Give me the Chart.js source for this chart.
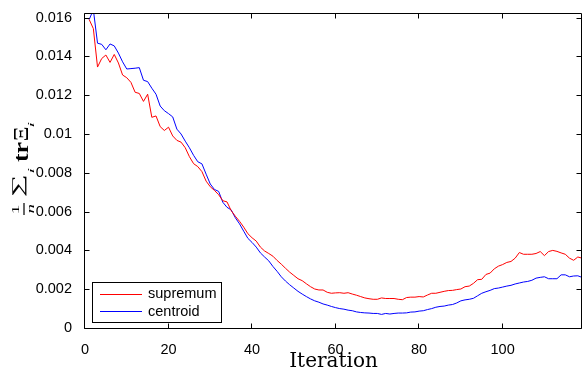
<!DOCTYPE html>
<html>
<head>
<meta charset="utf-8">
<script src="https://cdn.jsdelivr.net/npm/chart.js@4/dist/chart.umd.min.js"></script>
<style>
html,body{margin:0;padding:0;background:#fff;}
#wrap{width:583px;height:370px;}
</style>
</head>
<body>
<div id="wrap"><canvas id="c" width="583" height="370"></canvas></div>
<script>
// ---- data ----
const iterations = Array.from({length: 119}, (_, i) => i + 1);
const supremum = [
0.0159,0.01543,0.01345,0.01389,0.01407,0.01369,0.0141,0.01366,0.01304,0.0129,
0.01266,0.01215,0.01209,0.01168,0.01205,0.01086,0.01093,0.01038,0.01018,0.01035,
0.0099,0.00967,0.00958,0.00929,0.00883,0.00847,0.00832,0.00806,0.00757,0.00728,
0.00709,0.00687,0.00656,0.0065,0.00605,0.00576,0.0055,0.0052,0.00486,0.00465,
0.00448,0.00417,0.00397,0.00384,0.0037,0.00348,0.00329,0.00308,0.00288,0.00271,
0.00254,0.00244,0.00228,0.00213,0.00201,0.00196,0.00196,0.00184,0.00179,0.00181,
0.00182,0.00179,0.00182,0.00175,0.00169,0.00162,0.00155,0.00151,0.00148,0.00148,
0.00155,0.00152,0.00152,0.00152,0.00148,0.00146,0.00157,0.00159,0.00159,0.00162,
0.0016,0.0017,0.00179,0.00179,0.00184,0.00189,0.00193,0.00194,0.00198,0.00201,
0.00213,0.00216,0.0023,0.00249,0.00251,0.00276,0.00283,0.00305,0.00319,0.00327,
0.00338,0.00343,0.0036,0.00389,0.0038,0.0038,0.0038,0.00384,0.00394,0.00373,
0.00394,0.004,0.00395,0.00387,0.0038,0.0036,0.00349,0.00366,0.0036
];
const centroid = [
0.0159,0.0164,0.01468,0.01462,0.01434,0.01464,0.01454,0.01417,0.01372,0.01335,
0.01337,0.01339,0.01342,0.01277,0.0127,0.01236,0.01205,0.01144,0.0112,0.01105,
0.01088,0.01025,0.01,0.00963,0.00929,0.0089,0.00857,0.00846,0.00793,0.00742,
0.00714,0.00704,0.00648,0.00622,0.00609,0.00568,0.00537,0.00499,0.00462,0.00441,
0.00417,0.00387,0.00366,0.00346,0.00317,0.00292,0.00264,0.00242,0.00223,0.00206,
0.00189,0.00175,0.00162,0.0015,0.0014,0.00133,0.00124,0.00118,0.00111,0.00105,
0.001,0.00097,0.00092,0.00089,0.00083,0.0008,0.00078,0.00077,0.00075,0.00075,
0.0007,0.00075,0.00072,0.00075,0.00077,0.00077,0.00078,0.00082,0.00083,0.00087,
0.00089,0.00095,0.001,0.00107,0.00111,0.00113,0.00118,0.00121,0.00129,0.0014,
0.00145,0.00148,0.00153,0.00166,0.00179,0.00187,0.00194,0.00203,0.00206,0.00211,
0.00216,0.0022,0.00227,0.00232,0.00237,0.0024,0.00246,0.00257,0.00261,0.00264,
0.00254,0.00254,0.00254,0.00274,0.00274,0.00264,0.00268,0.00269,0.00261
];
const seriesNames = ['supremum', 'centroid'];
const seriesColors = ['#ff0000', '#0000ff'];
const xTickValues = [0, 20, 40, 60, 80, 100];
const yTickValues = [0, 0.002, 0.004, 0.006, 0.008, 0.01, 0.012, 0.014, 0.016];
const yTickLabels = ['0', '0.002', '0.004', '0.006', '0.008', '0.01', '0.012', '0.014', '0.016'];
const xAxisTitle = 'Iteration';

const tickFont = {family: '"Liberation Sans", Arial, sans-serif', size: 14.5};

function fitText(ctx, str, font, x0, x1, y0, y1) {
  ctx.font = font;
  ctx.textAlign = 'left';
  ctx.textBaseline = 'alphabetic';
  const m = ctx.measureText(str);
  const w = m.actualBoundingBoxLeft + m.actualBoundingBoxRight;
  const h = m.actualBoundingBoxAscent + m.actualBoundingBoxDescent;
  ctx.save();
  ctx.translate(x0, y0);
  ctx.scale((x1 - x0) / w, (y1 - y0) / h);
  ctx.fillText(str, m.actualBoundingBoxLeft, m.actualBoundingBoxAscent);
  ctx.restore();
}

const framePlugin = {
  id: 'matlabFrame',
  afterDatasetsDraw(chart) {
    const {ctx, chartArea: a, scales: {x, y}} = chart;
    ctx.save();
    ctx.strokeStyle = '#000';
    ctx.lineWidth = 1;
    const L = Math.round(a.left) - 0.5, R = Math.round(a.right) - 0.5;
    const T = Math.round(a.top) - 0.5, B = Math.round(a.bottom) + 0.5;
    ctx.beginPath();
    ctx.rect(L, T, R - L, B - T);
    const tl = 5;
    x.ticks.forEach(t => {
      const px = Math.round(x.getPixelForValue(t.value)) - 0.5;
      ctx.moveTo(px, B); ctx.lineTo(px, B - tl);
      ctx.moveTo(px, T); ctx.lineTo(px, T + tl);
    });
    y.ticks.forEach(t => {
      const py = Math.round(y.getPixelForValue(t.value)) + 0.5;
      ctx.moveTo(L, py); ctx.lineTo(L + tl, py);
      ctx.moveTo(R, py); ctx.lineTo(R - tl, py);
    });
    ctx.stroke();

    // legend box
    const lx = 92, ly = 282, lw = 129, lh = 40;
    ctx.fillStyle = '#fff';
    ctx.fillRect(lx, ly, lw, lh);
    ctx.strokeRect(lx + 0.5, ly + 0.5, lw, lh);
    ctx.font = '14.5px "Liberation Sans", Arial, sans-serif';
    ctx.textBaseline = 'middle';
    ctx.textAlign = 'left';
    chart.data.datasets.forEach((ds, i) => {
      const yy = ly + 11.5 + i * 17.5;
      ctx.strokeStyle = ds.borderColor;
      ctx.beginPath();
      ctx.moveTo(100, Math.round(yy) + 0.5);
      ctx.lineTo(142, Math.round(yy) + 0.5);
      ctx.stroke();
      ctx.fillStyle = '#000';
      ctx.fillText(ds.label, 148, yy + 0.5);
    });

    // y axis label: (1/n) sum_i tr Xi_i, rotated
    ctx.translate(28, 215);
    ctx.rotate(-Math.PI / 2);
    ctx.fillStyle = '#000';
    const serif = '"Liberation Serif", "Times New Roman", serif';
    fitText(ctx, '1', '40px ' + serif, 2, 9.5, -16.5, -9.5);
    ctx.fillRect(0, -4.6, 12, 1.2);
    fitText(ctx, 'n', 'italic 40px ' + serif, 2, 10.5, 0, 5.5);
    fitText(ctx, '\u2211', '40px ' + serif, 19, 39, -16, -1.5);
    fitText(ctx, 'i', 'italic 40px ' + serif, 42.5, 46.5, 0, 6);
    fitText(ctx, 'tr', 'bold 40px ' + serif, 53, 72.5, -11.5, 0);
    fitText(ctx, '\u039E', '40px ' + serif, 75, 87.5, -13.5, 0);
    fitText(ctx, 'i', 'italic 40px ' + serif, 88.5, 92.5, 0, 6);
    ctx.restore();
  }
};

new Chart(document.getElementById('c'), {
  type: 'line',
  data: {
    labels: iterations,
    datasets: seriesNames.map((name, k) => ({
      label: name,
      data: (k === 0 ? supremum : centroid).map((v, i) => ({x: iterations[i], y: v})),
      borderColor: seriesColors[k],
      backgroundColor: seriesColors[k],
      borderWidth: 1,
      pointRadius: 0,
      tension: 0,
      fill: false
    }))
  },
  options: {
    responsive: false,
    animation: false,
    events: [],
    layout: {padding: {top: 12, right: 1, left: 0, bottom: 0}},
    plugins: {legend: {display: false}, tooltip: {enabled: false}},
    scales: {
      x: {
        type: 'linear', min: 0, max: 119,
        grid: {display: false}, border: {display: false},
        afterBuildTicks: s => { s.ticks = xTickValues.map(v => ({value: v})); },
        afterFit: s => { s.height = 42; },
        ticks: {font: tickFont, color: '#000', padding: 5, maxRotation: 0, autoSkip: false},
        title: {display: true, text: xAxisTitle, color: '#000', padding: {top: 0, bottom: 0},
                font: {family: '"DejaVu Serif", serif', size: 20, lineHeight: 0.8}}
      },
      y: {
        type: 'linear', min: 0, max: 0.0162,
        grid: {display: false}, border: {display: false},
        afterBuildTicks: s => { s.ticks = yTickValues.map(v => ({value: v})); },
        afterFit: s => { s.width = 85; },
        ticks: {font: tickFont, color: '#000', padding: 5, autoSkip: false,
                callback: (v, i) => yTickLabels[i]}
      }
    }
  },
  plugins: [framePlugin]
});
</script>
</body>
</html>
